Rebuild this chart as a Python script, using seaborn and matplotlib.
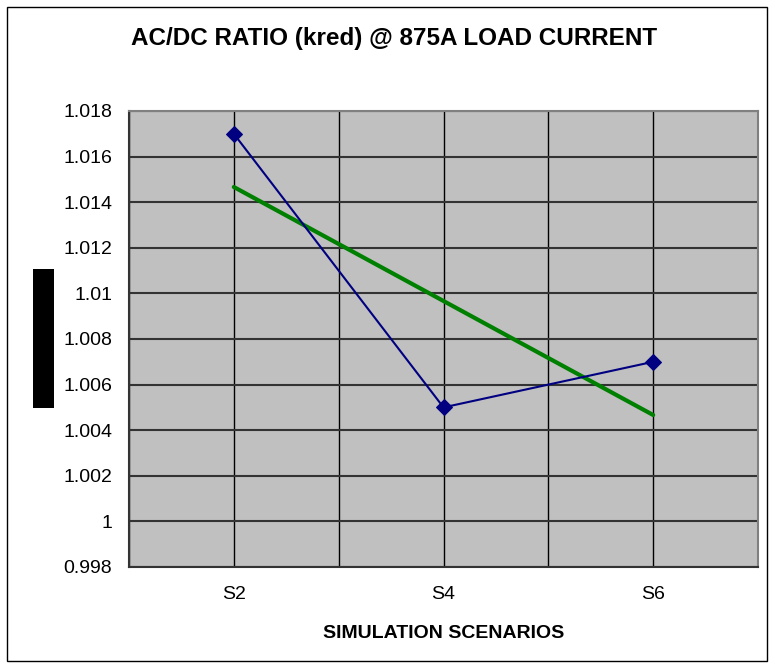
import numpy as np
import pandas as pd
import matplotlib
matplotlib.use("Agg")
import matplotlib.pyplot as plt
from matplotlib.patches import Rectangle
from matplotlib.ticker import FixedLocator, FuncFormatter
import seaborn as sns

categories = ["S2", "S4", "S6"]
kred_values = [1.017, 1.005, 1.007]
y_ticks = [0.998, 1.0, 1.002, 1.004, 1.006, 1.008, 1.010, 1.012, 1.014, 1.016, 1.018]

sns.set_theme(style="white")
plt.rcParams['font.family'] = ['Liberation Sans', 'DejaVu Sans']
plt.rcParams['text.color'] = 'black'
plt.rcParams['axes.labelcolor'] = 'black'

W, H = 775, 669
fig = plt.figure(figsize=(W / 100, H / 100), dpi=100)
L, R, T, B = 129, 758, 111, 567
ax = fig.add_axes([L / W, 1 - B / H, (R - L) / W, (B - T) / H])
ax.set_facecolor("#C0C0C0")

df = pd.DataFrame({"pos": np.arange(len(categories)), "val": kred_values})

sns.regplot(data=df, x="pos", y="val", scatter=False, ci=None, ax=ax,
            line_kws=dict(color="#008000", lw=3, zorder=4))
sns.lineplot(data=df, x="pos", y="val", ax=ax, color="#000080", lw=1.5,
             marker="D", markersize=8.5, markeredgecolor="#000080", zorder=5)

ax.set_xlim(-0.5, len(categories) - 0.5)
ax.set_ylim(0.998, 1.018)
ax.yaxis.set_major_locator(FixedLocator(y_ticks))
ax.yaxis.set_major_formatter(FuncFormatter(lambda v, p: f"{round(v, 6):g}"))

ax.set_xticks(np.arange(len(categories)))
ax.set_xticklabels(categories)
ax.xaxis.set_minor_locator(FixedLocator(np.arange(-0.5, len(categories), 1.0)))

ax.tick_params(axis="x", which="major", length=0, pad=14, labelsize=14)
ax.tick_params(axis="x", which="minor", length=6, width=1, color="black", direction="out")
ax.tick_params(axis="y", which="major", length=6, width=1, color="black", direction="out",
               labelsize=14, pad=6)
ax.tick_params(axis="both", labelcolor="black")

ax.grid(True, axis="y", which="major", color="#333333", lw=1.5)
ax.grid(True, axis="x", which="major", color="black", lw=1)
ax.grid(True, axis="x", which="minor", color="black", lw=1)
ax.set_axisbelow(True)

for s in ["top", "right"]:
    ax.spines[s].set_color("#808080")
    ax.spines[s].set_linewidth(1.5)
for s in ["left", "bottom"]:
    ax.spines[s].set_color("#333333")
    ax.spines[s].set_linewidth(1.5)

ax.set_ylabel("")
ax.set_xlabel("SIMULATION SCENARIOS", fontsize=14, fontweight="bold")
ax.xaxis.label.set_va("center")
ax.xaxis.set_label_coords(0.5, (B - 634) / (B - T))

fig.text(394 / W, 1 - 38 / H, "AC/DC RATIO (kred) @ 875A LOAD CURRENT",
         ha="center", va="center", fontsize=17.5, fontweight="bold")

# occluded y-axis label
fig.patches.append(Rectangle((33 / W, 1 - 408 / H), 21 / W, 139 / H,
                             transform=fig.transFigure, facecolor="black",
                             edgecolor="none"))
# outer chart border
fig.patches.append(Rectangle((7 / W, 1 - 661 / H), 760 / W, 654 / H,
                             transform=fig.transFigure, facecolor="none",
                             edgecolor="black", lw=1))

fig.savefig("out.png", dpi=100, facecolor="white")
